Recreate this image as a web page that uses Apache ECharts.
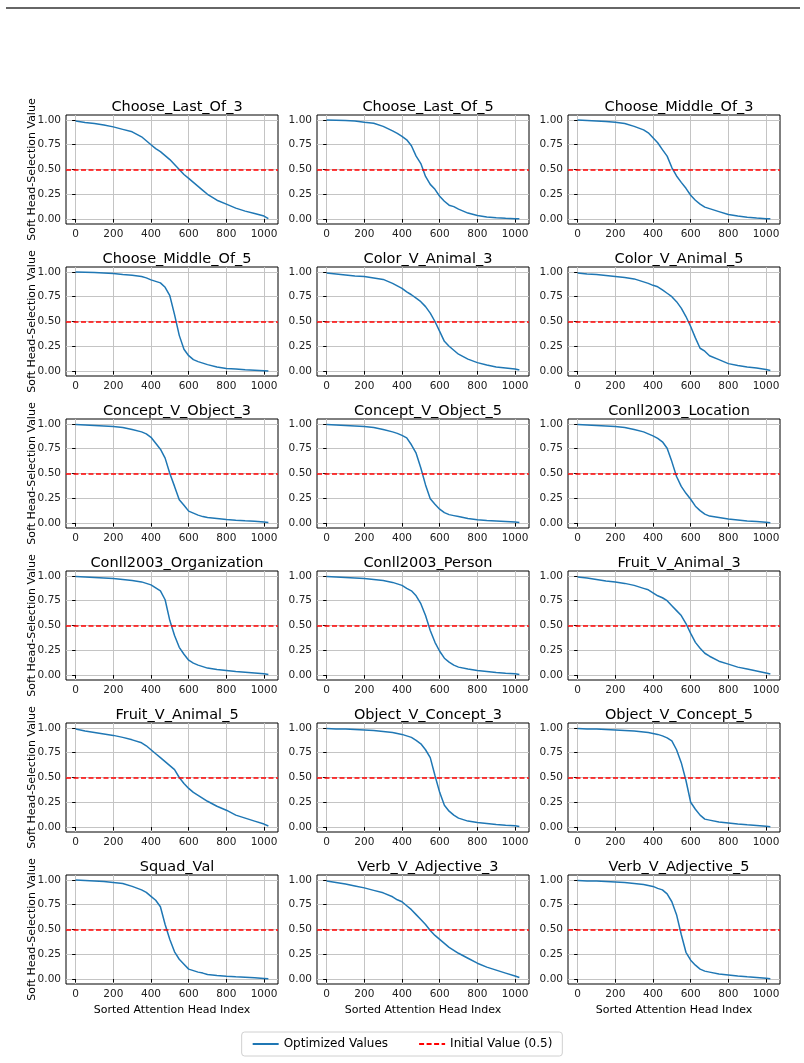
<!DOCTYPE html>
<html>
<head>
<meta charset="utf-8">
<script src="https://cdn.jsdelivr.net/npm/echarts@6/dist/echarts.min.js"></script>
<style>
  html, body { margin: 0; padding: 0; background: #fff; }
  #chart { width: 804px; height: 1063px; }
</style>
</head>
<body>
<div id="chart"></div>
<script>
// sampled head indices (x) shared by all panels
var headIdx = [0,50,100,150,200,250,300,350,375,400,425,450,475,500,525,550,575,600,625,650,675,700,750,800,850,900,950,1000,1023];

// values at headIdx
var chooseLast3      = [0.99,0.975,0.965,0.95,0.93,0.905,0.88,0.83,0.79,0.75,0.71,0.68,0.64,0.60,0.55,0.50,0.45,0.41,0.37,0.33,0.29,0.25,0.19,0.15,0.11,0.08,0.055,0.03,0.005];
var chooseLast5      = [1.0,0.998,0.995,0.99,0.977,0.967,0.935,0.89,0.865,0.835,0.80,0.74,0.635,0.56,0.43,0.35,0.30,0.23,0.18,0.14,0.125,0.10,0.06,0.035,0.02,0.012,0.007,0.003,0.002];
var chooseMiddle3    = [1.0,0.995,0.99,0.985,0.977,0.965,0.935,0.90,0.87,0.82,0.77,0.70,0.635,0.52,0.435,0.37,0.31,0.24,0.19,0.15,0.12,0.105,0.075,0.045,0.03,0.018,0.01,0.004,0.002];
var chooseMiddle5    = [1.0,0.998,0.995,0.99,0.985,0.975,0.967,0.955,0.94,0.92,0.905,0.89,0.845,0.76,0.57,0.36,0.22,0.155,0.115,0.095,0.08,0.065,0.04,0.025,0.02,0.012,0.008,0.003,0.0];
var colorAnimal3     = [0.99,0.98,0.97,0.96,0.955,0.94,0.925,0.885,0.86,0.835,0.80,0.77,0.735,0.70,0.65,0.585,0.50,0.40,0.30,0.25,0.21,0.17,0.12,0.085,0.06,0.04,0.03,0.02,0.01];
var colorAnimal5     = [0.99,0.98,0.975,0.965,0.955,0.945,0.93,0.90,0.885,0.865,0.85,0.82,0.785,0.75,0.70,0.635,0.55,0.45,0.335,0.23,0.20,0.155,0.115,0.075,0.055,0.04,0.03,0.015,0.005];
var conceptObject3   = [0.995,0.99,0.985,0.98,0.975,0.965,0.945,0.92,0.90,0.865,0.805,0.745,0.655,0.50,0.37,0.235,0.18,0.12,0.10,0.08,0.065,0.055,0.045,0.035,0.028,0.022,0.017,0.01,0.005];
var conceptObject5   = [0.995,0.99,0.985,0.98,0.975,0.965,0.945,0.92,0.905,0.885,0.86,0.79,0.705,0.555,0.385,0.245,0.19,0.14,0.105,0.085,0.075,0.065,0.045,0.033,0.025,0.02,0.015,0.01,0.005];
var conllLocation    = [0.995,0.99,0.985,0.98,0.975,0.965,0.945,0.92,0.90,0.88,0.855,0.82,0.755,0.62,0.47,0.37,0.30,0.24,0.17,0.125,0.09,0.07,0.055,0.04,0.03,0.02,0.015,0.008,0.003];
var conllOrganization= [0.995,0.99,0.985,0.98,0.975,0.965,0.955,0.94,0.925,0.91,0.88,0.85,0.76,0.55,0.40,0.28,0.21,0.15,0.12,0.10,0.085,0.07,0.055,0.045,0.035,0.028,0.02,0.012,0.005];
var conllPerson      = [0.995,0.99,0.985,0.98,0.975,0.965,0.955,0.935,0.92,0.905,0.875,0.85,0.80,0.72,0.60,0.45,0.33,0.24,0.17,0.13,0.10,0.08,0.06,0.045,0.035,0.025,0.018,0.012,0.005];
var fruitAnimal3     = [0.99,0.98,0.965,0.95,0.94,0.925,0.905,0.875,0.86,0.83,0.80,0.78,0.75,0.70,0.65,0.60,0.52,0.42,0.33,0.27,0.22,0.19,0.14,0.11,0.08,0.06,0.04,0.02,0.01];
var fruitAnimal5     = [0.99,0.97,0.955,0.94,0.925,0.905,0.88,0.85,0.82,0.78,0.74,0.70,0.66,0.62,0.58,0.50,0.44,0.39,0.35,0.32,0.29,0.26,0.21,0.17,0.12,0.09,0.06,0.03,0.01];
var objectConcept3   = [0.995,0.99,0.99,0.985,0.98,0.975,0.965,0.955,0.945,0.935,0.92,0.905,0.875,0.84,0.78,0.70,0.52,0.35,0.22,0.16,0.12,0.09,0.06,0.045,0.035,0.025,0.018,0.012,0.005];
var objectConcept5   = [0.995,0.99,0.99,0.985,0.98,0.975,0.97,0.96,0.955,0.945,0.935,0.92,0.90,0.87,0.78,0.65,0.47,0.25,0.18,0.12,0.08,0.07,0.05,0.04,0.03,0.022,0.015,0.008,0.003];
var squadVal         = [1.0,0.995,0.99,0.985,0.975,0.965,0.935,0.90,0.875,0.835,0.795,0.73,0.55,0.40,0.275,0.20,0.15,0.10,0.085,0.07,0.06,0.045,0.035,0.028,0.022,0.017,0.012,0.006,0.003];
var verbAdjective3   = [0.99,0.975,0.96,0.94,0.92,0.895,0.87,0.83,0.80,0.78,0.74,0.70,0.65,0.60,0.55,0.49,0.44,0.40,0.36,0.32,0.29,0.26,0.21,0.16,0.12,0.09,0.06,0.03,0.015];
var verbAdjective5   = [0.995,0.99,0.99,0.985,0.98,0.975,0.965,0.955,0.945,0.935,0.915,0.90,0.86,0.78,0.65,0.45,0.27,0.19,0.14,0.10,0.08,0.07,0.05,0.04,0.03,0.022,0.015,0.008,0.003];

var panelTitles = ['Choose_Last_Of_3','Choose_Last_Of_5','Choose_Middle_Of_3',
  'Choose_Middle_Of_5','Color_V_Animal_3','Color_V_Animal_5',
  'Concept_V_Object_3','Concept_V_Object_5','Conll2003_Location',
  'Conll2003_Organization','Conll2003_Person','Fruit_V_Animal_3',
  'Fruit_V_Animal_5','Object_V_Concept_3','Object_V_Concept_5',
  'Squad_Val','Verb_V_Adjective_3','Verb_V_Adjective_5'];
var panelValues = [chooseLast3, chooseLast5, chooseMiddle3,
  chooseMiddle5, colorAnimal3, colorAnimal5,
  conceptObject3, conceptObject5, conllLocation,
  conllOrganization, conllPerson, fruitAnimal3,
  fruitAnimal5, objectConcept3, objectConcept5,
  squadVal, verbAdjective3, verbAdjective5];

var xTicks = [0,200,400,600,800,1000];
var yTicks = [0,0.25,0.5,0.75,1];
var initialValue = 0.5;

// panel layout (px)
var colLeft = [66, 317, 568];
var rowTop = [115, 267, 419, 571, 723, 875];
var plotW = 212, plotH = 109;
var FONT = 'DejaVu Sans';

var grids = [], xAxes = [], yAxes = [], series = [], titles = [];

for (var i = 0; i < panelTitles.length; i++) {
  var r = Math.floor(i / 3), c = i % 3;
  grids.push({
    left: colLeft[c], top: rowTop[r], width: plotW, height: plotH,
    show: true, borderColor: '#000', borderWidth: 1, backgroundColor: 'transparent'
  });
  titles.push({
    text: panelTitles[i],
    left: colLeft[c] + plotW / 2, top: rowTop[r] - 20, textAlign: 'center',
    textStyle: { fontFamily: FONT, fontSize: 14.5, fontWeight: 'normal', color: '#000' }
  });
  xAxes.push({
    type: 'value', gridIndex: i, min: -51.15, max: 1074.15,
    name: r === 5 ? 'Sorted Attention Head Index' : '',
    nameLocation: 'middle', nameGap: 21, nameMoveOverlap: false,
    nameTextStyle: { fontFamily: FONT, fontSize: 11, color: '#000' },
    axisLine: { show: false },
    axisTick: { show: true, length: 3.5, customValues: xTicks, lineStyle: { color: '#000' } },
    axisLabel: {
      customValues: xTicks, margin: 5, fontFamily: FONT, fontSize: 10.5, color: '#222',
      formatter: function (v) { return String(v); }
    },
    splitLine: { show: true, lineStyle: { color: '#c4c4c4', width: 1 } }
  });
  yAxes.push({
    type: 'value', gridIndex: i, min: -0.05, max: 1.05,
    name: c === 0 ? 'Soft Head-Selection Value' : '',
    nameLocation: 'middle', nameGap: 28, nameMoveOverlap: false,
    nameTextStyle: { fontFamily: FONT, fontSize: 11, color: '#000' },
    axisLine: { show: false },
    axisTick: { show: true, length: 3.5, customValues: yTicks, lineStyle: { color: '#000' } },
    axisLabel: {
      customValues: yTicks, margin: 5, fontFamily: FONT, fontSize: 10.5, color: '#222',
      formatter: function (v) { return v.toFixed(2); }
    },
    splitLine: { show: true, lineStyle: { color: '#c4c4c4', width: 1 } }
  });

  var pts = [];
  for (var k = 0; k < headIdx.length; k++) pts.push([headIdx[k], panelValues[i][k]]);

  series.push({
    name: 'Optimized Values', type: 'line', xAxisIndex: i, yAxisIndex: i,
    data: pts, symbol: 'none', z: 3,
    lineStyle: { color: '#1f77b4', width: 1.5 }, itemStyle: { color: '#1f77b4' }
  });
  series.push({
    name: 'Initial Value (0.5)', type: 'line', xAxisIndex: i, yAxisIndex: i,
    data: [], symbol: 'none', z: 4,
    lineStyle: { color: '#ff0000', width: 1.5, type: [5, 2.5] }, itemStyle: { color: '#ff0000' },
    markLine: {
      silent: true, symbol: 'none', label: { show: false },
      lineStyle: { color: '#ff0000', width: 1.5, type: [5, 2.5] },
      data: [{ yAxis: initialValue }]
    }
  });
}

var chart = echarts.init(document.getElementById('chart'));
chart.setOption({
  animation: false,
  backgroundColor: '#fff',
  title: titles,
  grid: grids,
  xAxis: xAxes,
  yAxis: yAxes,
  legend: {
    top: 1032, left: 'center',
    data: ['Optimized Values', 'Initial Value (0.5)'],
    itemWidth: 26, itemHeight: 10, itemGap: 30,
    itemStyle: { opacity: 0, borderWidth: 0 },
    padding: [6, 10], borderColor: '#d0d0d0', borderWidth: 1, borderRadius: 3,
    textStyle: { fontFamily: FONT, fontSize: 12, color: '#000' }
  },
  graphic: [{
    type: 'line', shape: { x1: 6, y1: 8, x2: 800, y2: 8 },
    style: { stroke: '#333', lineWidth: 1.5 }
  }],
  series: series
});
</script>
</body>
</html>
